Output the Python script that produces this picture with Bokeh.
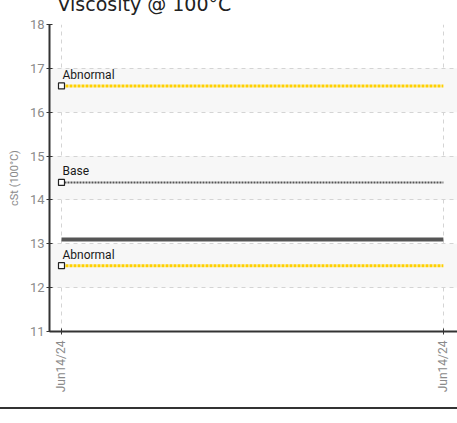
import math
from bokeh.plotting import figure
from bokeh.models import FixedTicker, Label, Range1d
from bokeh.embed import file_html
from bokeh.resources import INLINE

# ---- data ----
dates = ["Jun14/24", "Jun14/24"]
x_pos = [0, 1]
viscosity = [13.1, 13.1]
limit_names = ["Abnormal", "Base", "Abnormal"]
limit_values = [16.6, 14.4, 12.5]
limit_colors = ["#FFD100", "#555555", "#FFD100"]
limit_widths = [3, 2, 3]
y_ticks = [11, 12, 13, 14, 15, 16, 17, 18]
title_text = "Viscosity @ 100°C"
y_label = "cSt (100°C)"

FONT = "Roboto"
W, H = 465, 428

p = figure(width=W, height=H, output_backend="svg", toolbar_location=None,
           x_range=Range1d(-0.0314, 1.037), y_range=Range1d(11, 18),
           min_border_left=57, min_border_right=0, min_border_top=0, min_border_bottom=78,
           title=title_text)
p.margin = (-19, -8, 0, -8)
p.styles = {"border-bottom": "2px solid #333333"}
p.outline_line_color = None
p.background_fill_color = "white"
p.border_fill_color = "white"

t = p.title
t.text_font = "DejaVu Sans"
t.text_font_size = "19px"
t.text_font_style = "normal"
t.text_color = "#222222"
t.text_line_height = 0.6
t.align = "left"
t.offset = 8
t.standoff = 19
t.vertical_align = "bottom"

# grid
p.ygrid.ticker = FixedTicker(ticks=y_ticks)
p.ygrid.grid_line_color = "#d4d4d4"
p.ygrid.grid_line_dash = "4 4"
p.ygrid.band_fill_color = "#f7f7f7"
p.ygrid.band_fill_alpha = 1.0
p.xgrid.ticker = FixedTicker(ticks=x_pos)
p.xgrid.grid_line_color = "#d4d4d4"
p.xgrid.grid_line_dash = "4 4"

# axes
p.yaxis.ticker = FixedTicker(ticks=y_ticks)
p.xaxis.ticker = FixedTicker(ticks=x_pos)
p.xaxis.major_label_overrides = {x: d for x, d in zip(x_pos, dates)}
p.xaxis.major_label_orientation = math.pi / 2
for ax in (p.xaxis, p.yaxis):
    ax.axis_line_color = "#333333"
    ax.axis_line_width = 2
    ax.major_tick_line_color = "#333333"
    ax.major_tick_in = 3
    ax.major_tick_out = 3
    ax.minor_tick_line_color = None
    ax.major_label_text_color = "#8a8a8a"
    ax.major_label_text_font = FONT
ax = p.yaxis[0]
ax.major_label_text_font_size = "13px"
ax.major_label_standoff = 2
ax.axis_label = y_label
ax.axis_label_text_font = FONT
ax.axis_label_text_font_style = "normal"
ax.axis_label_text_font_size = "11px"
ax.axis_label_text_color = "#8a8a8a"
ax.axis_label_standoff = 6
p.xaxis.major_label_text_font_size = "12px"
p.xaxis.major_label_standoff = 6

# limit lines
for name, val, col, w in zip(limit_names, limit_values, limit_colors, limit_widths):
    p.line(x=x_pos, y=[val, val], line_color=col, line_width=w,
           line_dash="3 1" if w == 3 else "2 1")
    p.scatter(x=[x_pos[0]], y=[val], marker="square", size=6,
              fill_color="white", line_color="#222222", line_width=1.2)
    p.add_layout(Label(x=x_pos[0], y=val, text=name, x_offset=1, y_offset=4,
                       text_font=FONT, text_font_size="12px",
                       text_color="#1a1a1a", text_baseline="bottom"))

# data series
p.line(x=x_pos, y=viscosity, line_color="#555555", line_width=4)

open("out.html", "w").write(file_html(p, INLINE))
